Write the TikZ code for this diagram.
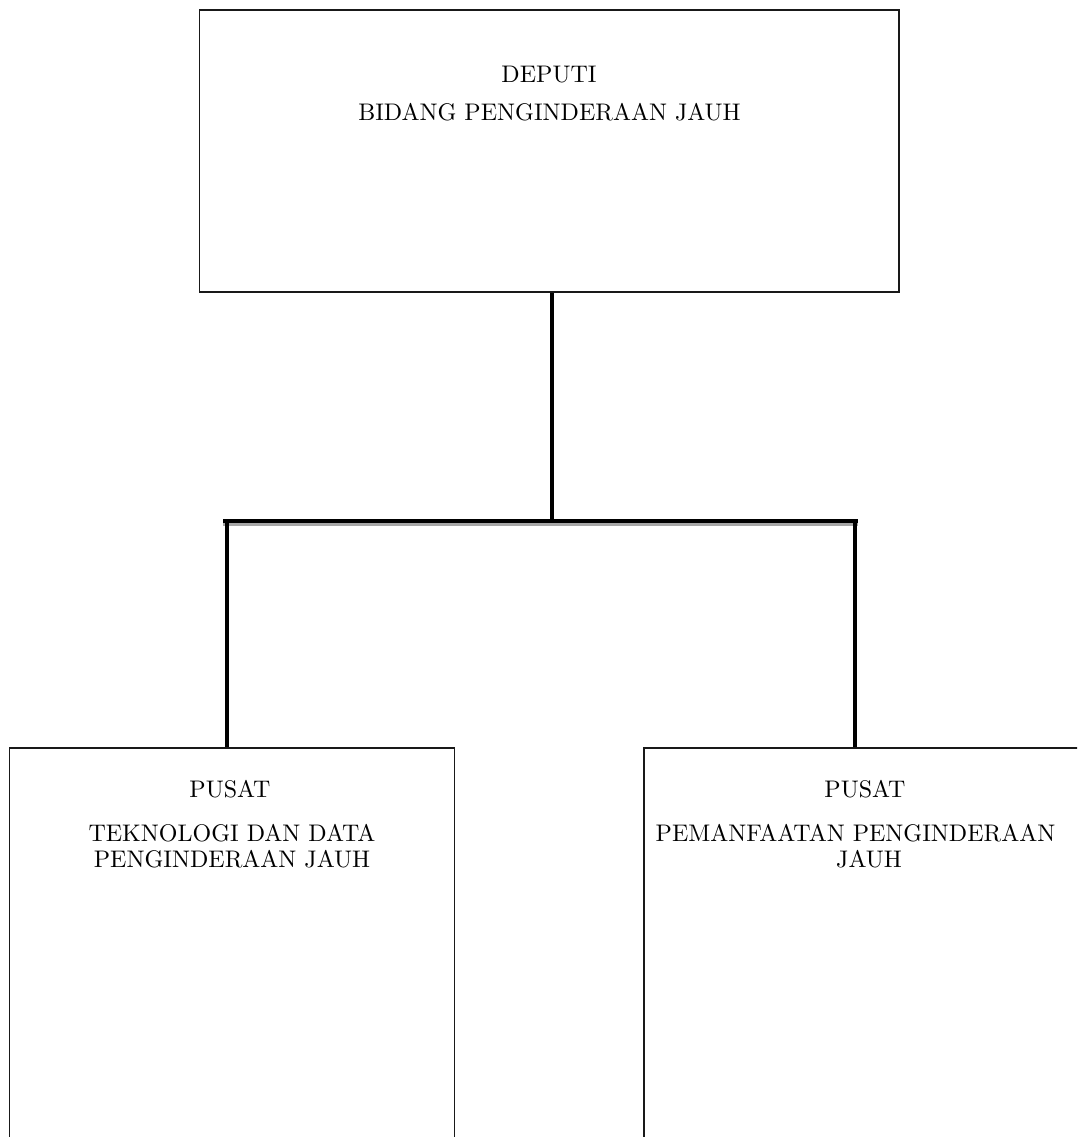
\documentclass[tikz,border=0pt]{standalone}
\usepackage{fontspec}
\setmainfont{lmroman10-regular.otf}
\begin{document}
\begin{tikzpicture}[x=1pt,y=-1pt,
  unitbox/.style={draw=black!90,line width=1.6pt,rectangle,inner sep=0pt,anchor=north west},
  label/.style={anchor=base,inner sep=0pt,font=\fontsize{24}{26}\selectfont},
  link/.style={line width=4pt,black},
  shade/.style={line width=3pt,black!35}]
\useasboundingbox (0,0) rectangle (1077,1137);
\clip (0,0) rectangle (1077,1137);
\fill[white] (0,0) rectangle (1077,1137);

% boxes
\node[unitbox,minimum width=699.5pt,minimum height=281.5pt] (deputi) at (198.5,9.5) {};
\node[unitbox,minimum width=445pt,minimum height=420pt] (pusatA) at (8.5,747) {};
\node[unitbox,minimum width=460pt,minimum height=420pt] (pusatB) at (643,747) {};

% box texts
\node[label] (t1) at (549,83) {DEPUTI};
\node[label] (t2) at (549.5,121) {BIDANG PENGINDERAAN JAUH};
\node[label] (l1) at (230,797) {PUSAT};
\node[label] (l2) at (232,841) {TEKNOLOGI DAN DATA};
\node[label] (l3) at (232,867) {PENGINDERAAN JAUH};
\node[label] (r1) at (865,797) {PUSAT};
\node[label] (r2) at (855.5,841) {PEMANFAATAN PENGINDERAAN};
\node[label] (r3) at (869,867) {JAUH};

% junction points of the connector tree
\coordinate (jm) at (551.5,521);
\coordinate (jl) at (227,521);
\coordinate (jr) at (855,521);
\coordinate (hl) at (223,521);
\coordinate (hr) at (858,521);

% connectors, with the grey rule under the crossbar
\draw[shade] ([yshift=-3.5pt]hl) -- ([yshift=-3.5pt]hr);
\draw[link] (jm |- deputi.south) -- (jm);
\draw[link] (hl) -- (hr);
\draw[link] (jl) -- (jl |- pusatA.north);
\draw[link] (jr) -- (jr |- pusatB.north);
\end{tikzpicture}
\end{document}
